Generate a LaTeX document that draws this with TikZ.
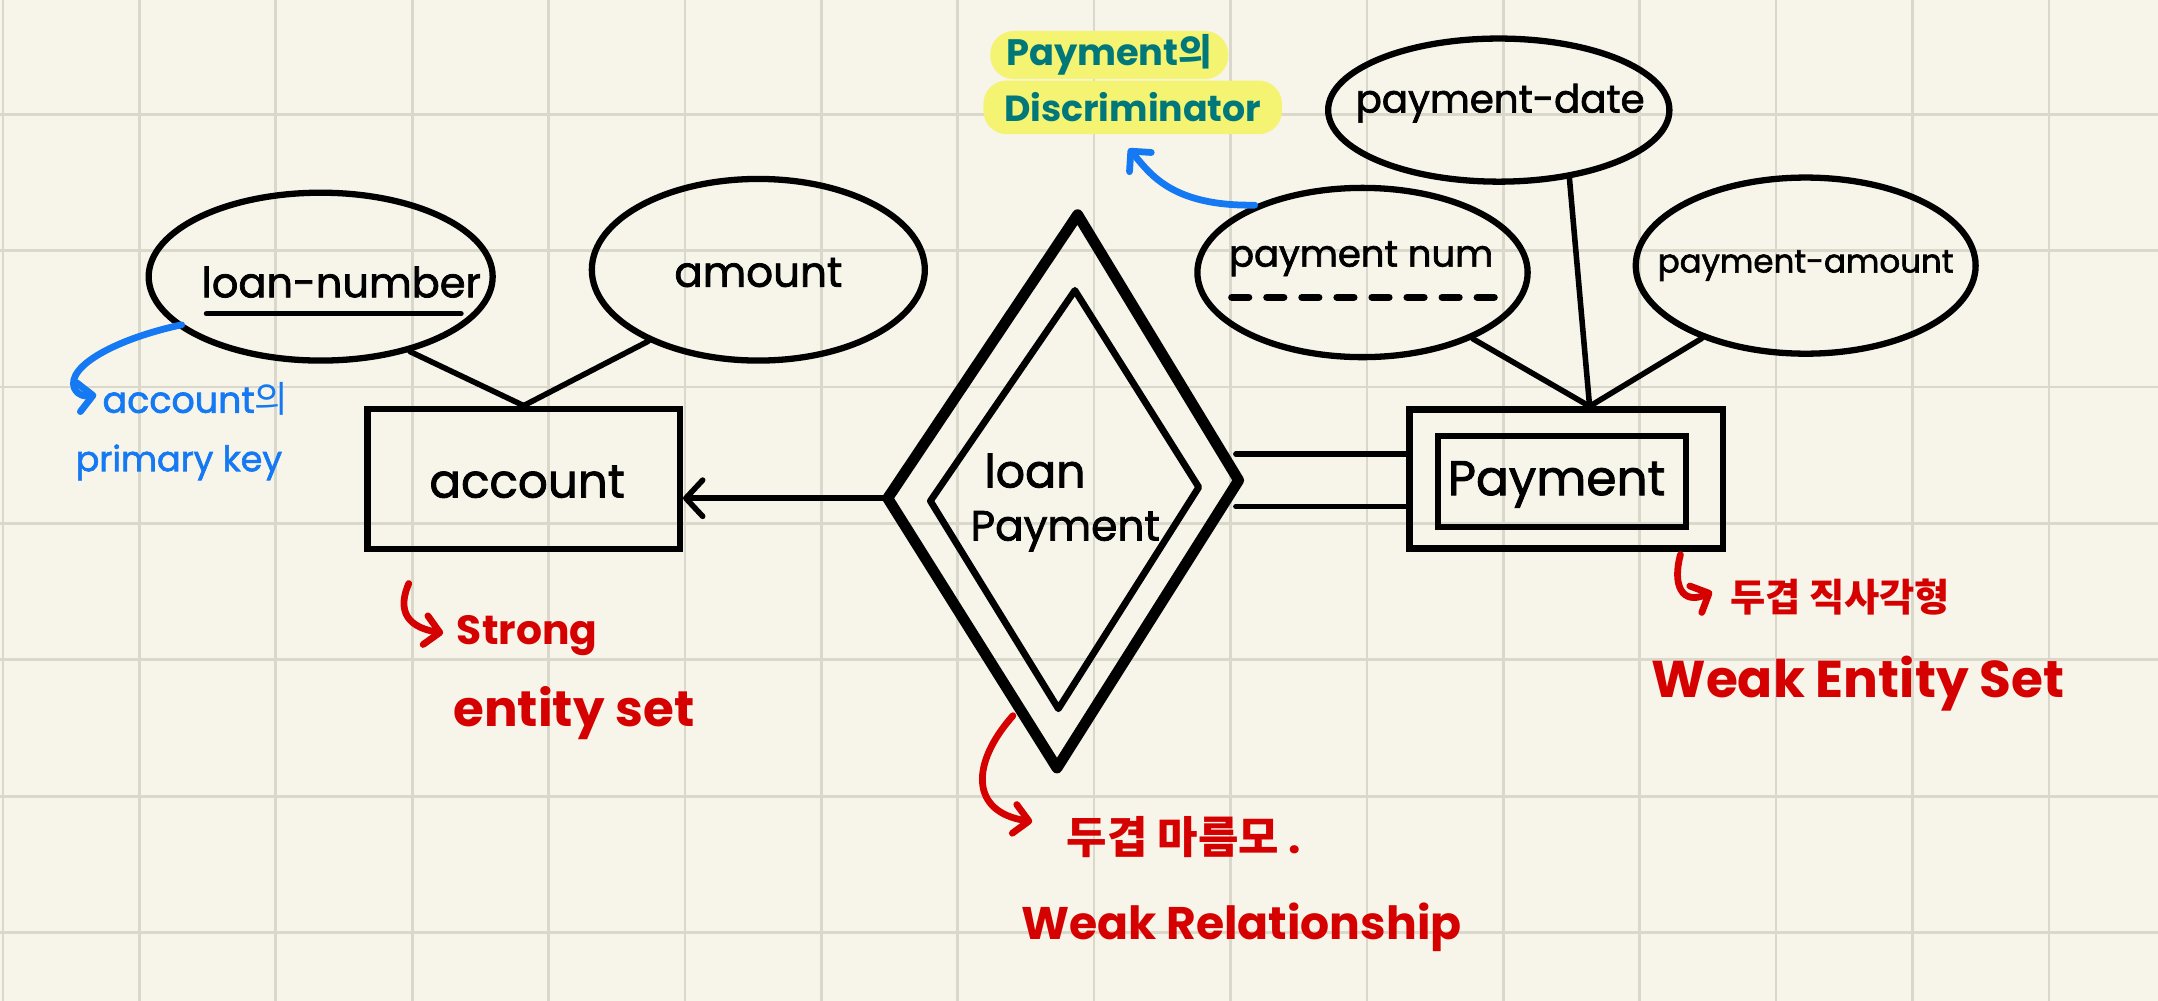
\documentclass[tikz,border=0pt]{standalone}
\usepackage{fontspec}
\setmainfont{Poppins}
\newfontfamily\hand{Poppins}[FakeBold=1.8]
\newfontfamily\kr{Noto Sans CJK KR}
\usetikzlibrary{shapes.geometric,arrows.meta,calc}
\definecolor{paper}{HTML}{F7F5E9}
\definecolor{gridc}{HTML}{DAD8CB}
\definecolor{redink}{HTML}{D50000}
\definecolor{blueink}{HTML}{1479F2}
\definecolor{tealink}{HTML}{00787A}
\definecolor{hl}{HTML}{F4F372}
\newcommand\fw[2]{\resizebox{#1}{!}{#2}}
\begin{document}
\begin{tikzpicture}[x=0.02cm,y=-0.02cm,
  gridline/.style={gridc,line width=1.1pt},
  attr/.style={ellipse,draw,line width=2.6pt,inner sep=0pt},
  ent/.style={rectangle,draw,line width=2.6pt,inner sep=0pt},
  conn/.style={line width=2.3pt,line cap=round},
  lbl/.style={inner sep=0pt,font=\fontsize{20}{24}\hand},
  redlbl/.style={lbl,text=redink,font=\fontsize{20}{24}\selectfont\bfseries},
  bluelbl/.style={lbl,text=blueink,font=\fontsize{20}{24}\hand},
  note/.style={line width=2.8pt,line cap=round,line join=round},
  hlbox/.style={fill=hl,rounded corners=0.34cm,inner sep=0pt,text=tealink,font=\fontsize{20}{24}\selectfont\bfseries},
  barb/.style={-{Straight Barb[length=6pt,width=12pt,line cap=round,line join=round]}}
]
\useasboundingbox[fill=paper] (0,0) rectangle (1568,727);
\foreach \i in {0,...,15} \draw[gridline] ({2.2+99.1*\i},0) -- ({2.2+99.1*\i},727);
\foreach \j in {0,...,6} \draw[gridline] (0,{83+99.1*\j}) -- (1568,{83+99.1*\j});

% attributes
\node[attr,minimum width=5cm,minimum height=2.44cm] (ln) at (233,201) {};
\node[attr,minimum width=4.84cm,minimum height=2.64cm] (am) at (551,196) {};
\node[attr,minimum width=4.8cm,minimum height=2.46cm] (pn) at (990,198) {};
\node[attr,minimum width=4.96cm,minimum height=2.08cm] (pd) at (1089,80) {};
\node[attr,minimum width=4.94cm,minimum height=2.56cm] (pa) at (1312,193) {};
\node[lbl] (lnT) at (248,205) {\fw{4.06cm}{loan-number}};
\node[lbl] (amT) at (551,198) {\fw{2.44cm}{amount}};
\node[lbl] (pnT) at (989,188) {\fw{3.84cm}{payment num}};
\node[lbl] (pdT) at (1090,75) {\fw{4.2cm}{payment-date}};
\node[lbl] (paT) at (1312,193) {\fw{4.3cm}{payment-amount}};
\draw[conn,line width=2.2pt] (150,228) -- (335,228);
\draw[conn,line width=3pt,dash pattern=on 7pt off 7.5pt] (895,216) -- (1088,216);

% entities
\node[ent,minimum width=4.54cm,minimum height=2.04cm] (acc) at (380.5,348) {};
\node[lbl] (accT) at (383,350) {\fw{2.84cm}{account}};
\node[ent,minimum width=4.56cm,minimum height=2.02cm] (pay) at (1138,348) {};
\node[ent,minimum width=3.6cm,minimum height=1.32cm] (payIn) at (1135,350) {};
\node[lbl] (payT) at (1131,352) {\fw{3.16cm}{Payment}};

% relationship (double diamond)
\coordinate (dT) at (783,156);
\coordinate (dL) at (645,362);
\coordinate (dB) at (768,558);
\coordinate (dR) at (900,349);
\coordinate (iT) at (781,211);
\coordinate (iL) at (676,364);
\coordinate (iB) at (769,515);
\coordinate (iR) at (871,354);
\draw[line width=4.5pt,line join=round] (dT) -- (dR) -- (dB) -- (dL) -- cycle;
\draw[line width=2.8pt,line join=round] (iT) -- (iR) -- (iB) -- (iL) -- cycle;
\node[lbl,font=\fontsize{19}{23}\hand] (relA) at (752,342) {loan};
\node[lbl,font=\fontsize{17.5}{21}\hand] (relB) at (774,386) {Payment};

% connectors
\coordinate (accTop) at (acc.north);
\draw[conn] (accTop) -- (ln.-40);
\draw[conn] (accTop) -- (am.-147);
\coordinate (payTop) at ($(pay.north)+(17,0)$);
\draw[conn] (payTop) -- (pn.-31);
\draw[conn] (payTop) -- (pd.-44);
\draw[conn] (payTop) -- (pa.-145);
\draw[conn,-{Straight Barb[length=7pt,width=15pt,line cap=round,line join=round]}] (dL) -- (dL -| acc.east);
\coordinate (w1) at ($(pay.west)+(0,-18)$);
\coordinate (w2) at ($(pay.west)+(0,20)$);
\draw[conn] (w1) -- ($(w1 -| dR)+(-2,0)$);
\draw[conn] (w2) -- ($(w2 -| dR)+(-2,0)$);

% discriminator note
\node[hlbox,minimum width=3.46cm,minimum height=0.7cm] (disA) at (806,40) {\fw{3.0cm}{Payment{\kr\bfseries 의}}};
\node[hlbox,minimum width=4.34cm,minimum height=0.78cm] (disB) at (823,78) {\fw{3.74cm}{Discriminator}};
\draw[note,blueink,barb] (pn.148) .. controls (850,150) and (835,125) .. (820,108);

% primary key note
\node[bluelbl] (pkA) at (142,290) {\fw{2.7cm}{account{\kr 의}}};
\node[bluelbl] (pkB) at (130,336) {\fw{3.0cm}{primary key}};
\coordinate (pkS) at (132,236);
\draw[note,blueink,barb] (pkS) .. controls (85,246) and (48,266) .. (54,282) .. controls (57,288) and (62,288) .. (70,287);

% strong entity note
\node[redlbl] (seA) at (383,462) {\fw{2.04cm}{Strong}};
\node[redlbl] (seB) at (417,518) {\fw{3.5cm}{entity set}};
\coordinate (seS) at (297,424);
\draw[note,redink,barb] (seS) .. controls (290,440) and (292,455) .. (322,460);

% weak relationship note
\node[redlbl] (wrA) at (860,608) {\fw{3.4cm}{{\kr\bfseries 두겹 마름모} .}};
\node[redlbl] (wrB) at (902,674) {\fw{6.4cm}{Weak Relationship}};
\coordinate (wrS) at (736,520);
\draw[note,redink,barb] (wrS) .. controls (705,555) and (705,590) .. (750,597);

% weak entity note
\node[redlbl] (weA) at (1337,434) {\fw{3.2cm}{\kr\bfseries 두겹 직사각형}};
\node[redlbl] (weB) at (1350,497) {\fw{6.0cm}{Weak Entity Set}};
\coordinate (weS) at (1221,403);
\draw[note,redink,barb] (weS) .. controls (1215,425) and (1222,440) .. (1244,430);
\end{tikzpicture}
\end{document}
